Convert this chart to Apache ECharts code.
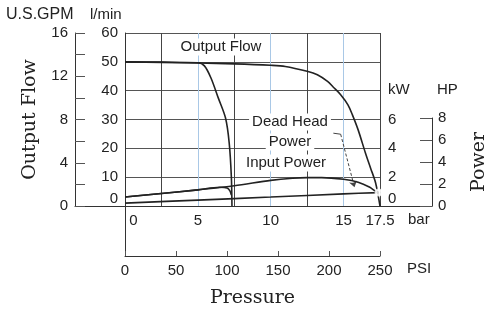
<!DOCTYPE html>
<html>
<head>
<meta charset="utf-8">
<script src="https://cdn.jsdelivr.net/npm/echarts@6/dist/echarts.min.js"></script>
<style>
  html, body { margin: 0; padding: 0; background: #fff; }
  #chart { width: 485px; height: 312px; }
</style>
</head>
<body>
<div id="chart"></div>
<script>
// 流量曲线 bar -> l/min
const flowLowBar = [0, 2.5, 5, 5.45, 5.9, 6.4, 6.9, 7.15, 7.3, 7.34]
const flowLowLpm = [50, 49.9, 49.7, 48.6, 44.4, 37.5, 30.5, 21.9, 10, 0]
const flowHighBar = [0, 2.5, 5, 7.5, 10, 11, 12.5, 13.2, 13.9, 14.3, 14.8, 15.3, 15.6, 16, 16.5, 16.85, 17.2, 17.5]
const flowHighLpm = [50, 49.8, 49.6, 49.3, 48.8, 48.4, 46.7, 45.5, 43.2, 41.2, 38.6, 35.1, 31.7, 26.4, 18.4, 13.2, 8, 0]

// 功率曲线 bar -> kW
const powerLowBar = [0, 2.5, 5, 6.5, 7.0, 7.2, 7.3]
const powerLowKw = [0.62, 0.87, 1.12, 1.3, 1.25, 1.05, 0.75]
const powerHighBar = [0, 2.5, 5, 7.5, 10, 11.5, 12.5, 13.5, 15, 16, 16.8, 17.2, 17.4]
const powerHighKw = [0.62, 0.87, 1.12, 1.4, 1.78, 1.93, 1.97, 1.97, 1.85, 1.65, 1.3, 1.02, 0.93]
const deadHeadBar = [0, 5, 10, 15, 17.4]
const deadHeadKw = [0.2, 0.41, 0.62, 0.84, 0.93]

// 指引线 (Dead Head Power)
const leaderBar = [14.3, 14.8, 15.75]
const leaderKw = [5.05, 4.98, 1.3]

const zip = (xs, ys) => xs.map((x, i) => [x, ys[i]])

const INK = "#222"
const SANS = "Liberation Sans, Arial, sans-serif"
const SERIF = "DejaVu Serif, serif"
const lbl = { color: INK, fontSize: 15, fontFamily: SANS }
// 轴线 不贴零
const axLine = { show: true, onZero: false, lineStyle: { color: "#333" } }

const myChart = echarts.init(document.getElementById("chart"))

const curve = (name, data, yIdx) => ({
  name: name,
  type: "line",
  xAxisIndex: 0,
  yAxisIndex: yIdx,
  data: data,
  smooth: 0.3,
  showSymbol: false,
  lineStyle: { color: INK, width: 1.6 },
  z: 5,
})

const text = (t, x, y, align, bg, size) => ({
  type: "text",
  z: 100,
  style: {
    text: t, x: x, y: y,
    align: align || "center", verticalAlign: "middle",
    font: (size || 15) + "px " + SANS, fill: INK,
    backgroundColor: bg ? "#fff" : null,
    padding: bg ? [1, 3] : 0,
  },
})

let option = {
  animation: false,
  backgroundColor: "#fff",
  grid: [
    { left: 125, top: 33, width: 255, height: 173, outerBoundsMode: "none" },
    { left: 75, top: 33, width: 357, height: 173, outerBoundsMode: "none" },
    { left: 75, top: 118, width: 357, height: 88, outerBoundsMode: "none" },
    { left: 125, top: 206, width: 255, height: 50, outerBoundsMode: "none" },
  ],
  xAxis: [
    {
      gridIndex: 0, type: "value", min: 0, max: 17.5, interval: 2.5,
      axisLine: axLine,
      axisTick: { show: false },
      axisLabel: Object.assign({}, lbl, {
        margin: 7,
        alignMinLabel: "left",
        formatter: (v) => (v === 0 ? " 0" : v % 5 === 0 || v === 17.5 ? String(v) : ""),
      }),
      splitLine: { show: true, lineStyle: { color: ["#a9c8e6", "#444"], width: 1 } },
    },
    {
      gridIndex: 1, type: "value", min: 0, max: 1,
      axisLine: axLine,
      axisTick: { show: false }, axisLabel: { show: false }, splitLine: { show: false },
    },
    { gridIndex: 2, type: "value", min: 0, max: 1, show: false },
    {
      gridIndex: 3, type: "value", min: 0, max: 250, interval: 50,
      axisLine: axLine,
      axisTick: { show: true, inside: true, length: 5, lineStyle: { color: "#555" } },
      axisLabel: Object.assign({}, lbl, { margin: 7 }),
      splitLine: { show: false },
      name: "Pressure", nameLocation: "middle", nameGap: 33,
      nameTextStyle: { color: INK, fontSize: 19, fontFamily: SERIF },
    },
  ],
  yAxis: [
    {
      gridIndex: 0, type: "value", min: 0, max: 60, interval: 10,
      axisLine: axLine,
      axisTick: { show: false },
      axisLabel: Object.assign({}, lbl, { margin: 7, verticalAlignMinLabel: "bottom" }),
      splitLine: { show: true, lineStyle: { color: "#555", width: 1 } },
    },
    {
      gridIndex: 0, type: "value", min: 0, max: 12, interval: 2, position: "right",
      axisLine: { show: false }, axisTick: { show: false },
      axisLabel: Object.assign({}, lbl, {
        margin: 8, verticalAlignMinLabel: "bottom",
        formatter: (v) => (v <= 6 ? String(v) : ""),
      }),
      splitLine: { show: false },
    },
    {
      gridIndex: 1, type: "value", min: 0, max: 16, interval: 2, position: "left",
      axisLine: axLine,
      axisTick: { show: true, inside: true, length: 10, lineStyle: { color: "#555" } },
      axisLabel: Object.assign({}, lbl, {
        margin: 7,
        formatter: (v) => (v % 4 === 0 ? String(v) : ""),
      }),
      splitLine: { show: false },
      name: "Output Flow", nameLocation: "middle", nameGap: 35, nameRotate: 90,
      nameTextStyle: { color: INK, fontSize: 19, fontFamily: SERIF },
    },
    {
      gridIndex: 2, type: "value", min: 0, max: 8, interval: 2, position: "right",
      axisLine: axLine,
      axisTick: { show: true, inside: true, length: 12, lineStyle: { color: "#555" } },
      axisLabel: Object.assign({}, lbl, { margin: 6 }),
      splitLine: { show: false },
      name: "Power", nameLocation: "middle", nameGap: 38, nameRotate: 90,
      nameTextStyle: { color: INK, fontSize: 19, fontFamily: SERIF },
    },
    {
      gridIndex: 3, type: "value", min: 0, max: 1,
      axisLine: axLine,
      axisTick: { show: false }, axisLabel: { show: false }, splitLine: { show: false },
    },
  ],
  series: [
    curve("Output Flow A", zip(flowLowBar, flowLowLpm), 0),
    curve("Output Flow B", zip(flowHighBar, flowHighLpm), 0),
    curve("Input Power A", zip(powerLowBar, powerLowKw), 1),
    curve("Input Power B", zip(powerHighBar, powerHighKw), 1),
    Object.assign(curve("Dead Head Power", zip(deadHeadBar, deadHeadKw), 1), {
      markLine: {
        silent: true,
        animation: false,
        label: { show: false },
        lineStyle: { color: "#444", width: 1, type: "solid" },
        data: [
          [
            { coord: [leaderBar[0], leaderKw[0]], symbol: "none" },
            { coord: [leaderBar[1], leaderKw[1]], symbol: "none" },
          ],
          [
            { coord: [leaderBar[1], leaderKw[1]], symbol: "none" },
            { coord: [leaderBar[2], leaderKw[2]], symbol: "arrow", symbolSize: 6,
              lineStyle: { type: [3, 2] } },
          ],
        ],
      },
    }),
    {
      type: "scatter", xAxisIndex: 0, yAxisIndex: 1,
      data: [[deadHeadBar[deadHeadBar.length - 1], deadHeadKw[deadHeadKw.length - 1]]],
      symbol: "emptyCircle", symbolSize: 6,
      itemStyle: { color: "#fff", borderColor: INK, borderWidth: 1.2 },
      z: 6,
    },
  ],
  graphic: [
    text("Output Flow", 221, 47, "center", true),
    text("Dead Head", 290, 122, "center", true),
    text("Power", 290, 142, "center", true),
    text("Input Power", 286, 163, "center", true),
    text("U.S.GPM", 6, 15, "left", false, 16),
    text("l/min", 90, 15, "left"),
    text("kW", 388, 90, "left"),
    text("HP", 437, 90, "left"),
    text("bar", 408, 220, "left"),
    text("PSI", 407, 269, "left"),
  ],
}

myChart.setOption(option)
</script>
</body>
</html>
